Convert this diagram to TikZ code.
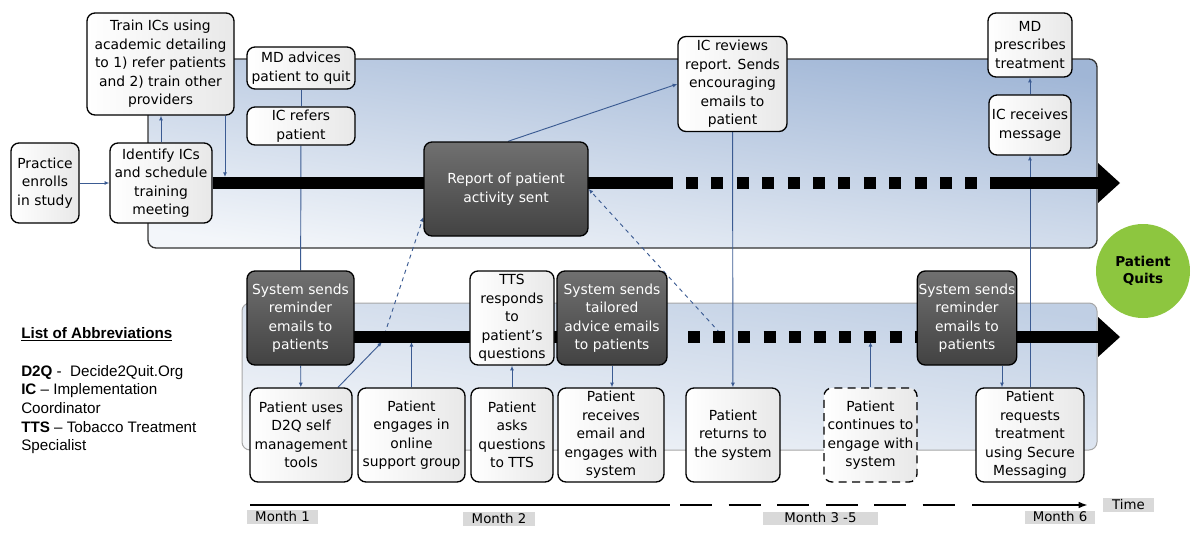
\documentclass[tikz,border=0pt]{standalone}
\usepackage{fontspec}
\setmainfont{DejaVu Sans}
\newfontfamily\arialfont{Liberation Sans}
\usetikzlibrary{arrows.meta,calc}

\definecolor{linkblue}{HTML}{3B5B92}
\definecolor{quitgreen}{HTML}{8DC63F}
\definecolor{labelgray}{HTML}{D9D9D9}
\definecolor{panelhi}{RGB}{160,182,214}
\definecolor{panello}{RGB}{243,246,250}
\definecolor{panelhiB}{RGB}{192,207,228}
\definecolor{panelloB}{RGB}{245,247,250}

\pgfdeclarelayer{panel}
\pgfdeclarelayer{links}
\pgfdeclarelayer{bars}
\pgfsetlayers{panel,links,bars,main}

\tikzset{every picture/.style={line width=0.75pt}}
\tikzset{
  boxtext/.style={font=\fontsize{10.4}{13.9}\selectfont, align=center, inner sep=1pt},
  wbox/.style 2 args={boxtext, draw=black, line width=1pt, rounded corners=6pt,
    left color=white, right color=black!9, minimum width=#1*0.75pt, minimum height=#2*0.75pt},
  dbox/.style 2 args={boxtext, draw=black, line width=1pt, rounded corners=6pt, text=white,
    top color=black!56, bottom color=black!74, minimum width=#1*0.75pt, minimum height=#2*0.75pt},
  conn/.style={draw=linkblue, line width=0.7pt},
  arr/.style={conn, -{Latex[length=3.5pt,width=3pt]}},
  bar/.style={line width=9pt, black},
  month/.style 2 args={fill=labelgray, inner sep=0pt, font=\fontsize{10}{12}\selectfont,
    minimum width=#1*0.75pt, minimum height=#2*0.75pt}
}

\begin{document}
\begin{tikzpicture}[x=0.75pt,y=0.75pt,yscale=-1,xscale=1]
\useasboundingbox (0,0) rectangle (1200,547);

%Panels
\begin{pgfonlayer}{panel}
\draw [draw=black!80, line width=1pt, rounded corners=6pt, top color=panelhi, bottom color=panello, shading angle=-8] (148,59) rectangle (1097,248) ;
\draw [draw=black!35, line width=0.75pt, rounded corners=6pt, top color=panelhiB, bottom color=panelloB, shading angle=-8] (242,303) rectangle (1097,450) ;
\end{pgfonlayer}

% Text Node
\node (enroll) at (45,183) [wbox={68}{80}] {Practice\\enrolls\\in study};
% Text Node
\node (identify) at (161,183) [wbox={102}{80}] {Identify ICs\\and schedule\\training\\meeting};
% Text Node
\node (train) at (160.5,64) [wbox={147}{102}] {Train ICs using\\academic detailing\\to 1) refer patients\\and 2) train other\\providers};
% Text Node
\node (mdadv) at (301,68) [wbox={108}{42}] {MD advices\\patient to quit};
% Text Node
\node (icref) at (301,126) [wbox={108}{38}] {IC refers\\patient};
% Text Node
\node (report) at (506,189) [dbox={164}{94}] {Report of patient\\activity sent};
% Text Node
\node (icrev) at (732.5,84) [wbox={109}{95}] {IC reviews\\report. Sends\\encouraging\\emails to\\patient};
% Text Node
\node (mdpres) at (1030,45) [wbox={84}{64}] {MD\\prescribes\\treatment};
% Text Node
\node (icrec) at (1030,125) [wbox={82}{60}] {IC receives\\message};

% Text Node
\node (sysA) at (300.5,318) [dbox={107}{94}] {System sends\\reminder\\emails to\\patients};
% Text Node
\node (d2q) at (301,435) [wbox={102}{94}] {Patient uses\\D2Q self\\management\\tools};
% Text Node
\node (online) at (411.5,435) [wbox={107}{94}] {Patient\\engages in\\online\\support group};
% Text Node
\node (asks) at (512,435) [wbox={82}{94}] {Patient\\asks\\questions\\to TTS};
% Text Node
\node (ttsresp) at (512,318) [wbox={84}{94}] {TTS\\responds\\to\\patient's\\questions};
% Text Node
\node (sysB) at (612,318) [dbox={110}{94}] {System sends\\tailored\\advice emails\\to patients};
% Text Node
\node (receives) at (611,435) [wbox={106}{94}] {Patient\\receives\\email and\\engages with\\system};
% Text Node
\node (returns) at (733,435) [wbox={94}{94}] {Patient\\returns to\\the system};
% Text Node
\node (continues) at (870.5,435) [wbox={93}{94}, dashed, dash pattern=on 6pt off 4pt] {Patient\\continues to\\engage with\\system};
% Text Node
\node (sysC) at (967,318) [dbox={99}{94}] {System sends\\reminder\\emails to\\patients};
% Text Node
\node (requests) at (1030,435) [wbox={108}{94}] {Patient\\requests\\treatment\\using Secure\\Messaging};

% Text Node
\node (quits) at (1143,271) [circle, fill=quitgreen, minimum size=94*0.75pt, inner sep=0pt, align=center, font=\fontsize{10.2}{13}\selectfont\bfseries] {Patient\\Quits};

%Arrows along the time axis
\coordinate (barA) at (225,177);
\coordinate (hitA) at (382,342);
\coordinate (hitB) at (411.5,342);
\coordinate (hitC) at (720,333);
\coordinate (hitD) at (870.5,342);
\begin{pgfonlayer}{bars}
\draw [bar] (identify.east) -- (673,183) ;
\draw [bar, dash pattern=on 9pt off 10.05pt] (686,183) -- (980,183) ;
\draw [bar] (990,183) -- (1099,183) ;
\fill (1098,163) -- (1120,183) -- (1098,203) -- cycle ;
\draw [bar] (300,337) -- (667,337) ;
\draw [bar, dash pattern=on 9pt off 9.9pt] (688,337) -- (930,337) ;
\draw [bar] (950,337) -- (1099,337) ;
\fill (1098,317) -- (1120,337) -- (1098,357) -- cycle ;
\end{pgfonlayer}

%Connectors
\begin{pgfonlayer}{links}
\draw [arr] (enroll) -- (identify) ;
\draw [arr] (identify.north) -- (identify.north |- train.south) ;
\draw [arr] (train.south -| barA) -- (barA) ;
\draw [conn] (mdadv) -- (icref) ;
\draw [conn] (icref) -- (sysA) ;
\draw [arr] (sysA) -- (d2q) ;
\draw [arr] ($(d2q.north)+(37,0)$) -- (hitA) ;
\draw [arr, dashed] (hitA) -- ($(report.west)+(0,28)$) ;
\draw [arr] (online.north) -- (hitB) ;
\draw [arr, {Latex[length=3.5pt,width=3pt]}-] (ttsresp) -- (asks) ;
\draw [arr] (sysB.south) -- (sysB.south |- receives.north) ;
\draw [arr, dashed] (hitC) -- (report.east) ;
\draw [arr] ($(report.north)+(2,0)$) -- (icrev.west) ;
\draw [arr] (icrev) -- (returns) ;
\draw [arr] (continues.north) -- (hitD) ;
\draw [arr] ($(sysC.south)+(35,0)$) coordinate (sc) -- (sc |- requests.north) ;
\draw [arr, {Latex[length=3.5pt,width=3pt]}-] (icrec) -- (requests) ;
\draw [arr] (icrec) -- (mdpres) ;
\end{pgfonlayer}

%Time line
\draw [line width=1.5pt] (250,505) -- (670,505) ;
\draw [line width=1.5pt, dash pattern=on 24pt off 12.4pt] (680,505) -- (956,505) ;
\draw [line width=1.5pt, -{Latex[length=7pt,width=5pt]}] (972,505) -- (1088,505) ;

% Text Node
\node (m1) at (282.5,516.5) [month={71}{14}] {Month 1};
% Text Node
\node (m2) at (499,519) [month={72}{14}] {Month 2};
% Text Node
\node (m35) at (820.5,518) [month={115}{13}] {Month 3 -5};
% Text Node
\node (m6) at (1060,517) [month={70}{13}] {Month 6};
% Text Node
\node (time) at (1128.5,505) [month={51}{14}] {Time};

% Text Node
\node (abbrtitle) at (21,334) [anchor=west, inner sep=0pt, font=\arialfont\fontsize{11.4}{14}\selectfont\bfseries] {\underline{List of Abbreviations}};
% Text Node
\node (abbrlist) at (21,365) [anchor=north west, inner sep=0pt, align=left, font=\arialfont\fontsize{11.4}{13.95}\selectfont] {\textbf{D2Q} -~ Decide2Quit.Org\\\textbf{IC} – Implementation\\Coordinator\\\textbf{TTS} – Tobacco Treatment\\Specialist};

\end{tikzpicture}
\end{document}
